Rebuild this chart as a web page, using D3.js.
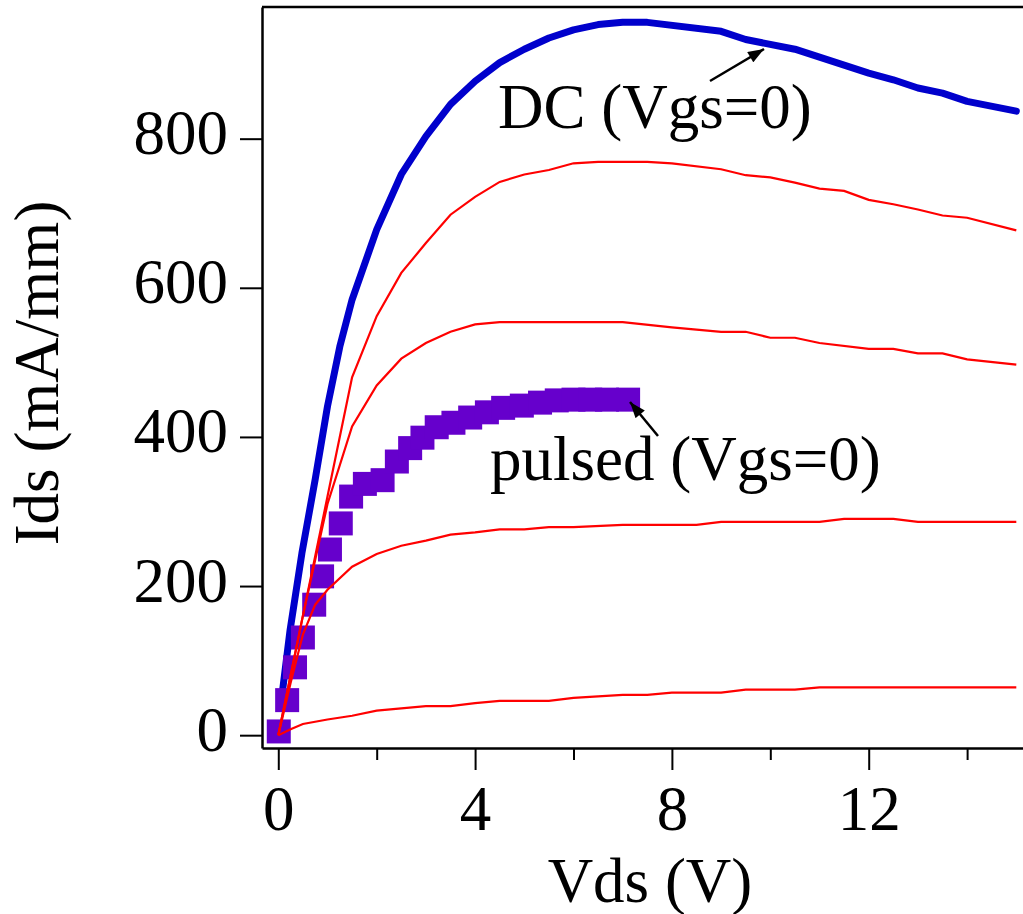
<!DOCTYPE html>
<html lang="en">
<head>
	<meta charset="utf-8">
	<title>Ids vs Vds</title>
	<script src="https://d3js.org/d3.v7.min.js" charset="utf-8"></script>
	<style>
	body { margin: 0; background: #fff; }
	text {
		font-family: "Liberation Serif", "Times New Roman", serif;
		font-size: 63px;
		fill: #000;
	}
	</style>
</head>
<body>
	<script>
	// DC curve at Vgs=0 (blue, thick)
	var dcData = [
		[0.05, 40], [0.24, 141], [0.48, 244], [0.75, 343], [1.0, 441], [1.25, 521],
		[1.5, 584], [2, 678], [2.5, 752], [3, 803], [3.5, 846], [4, 877], [4.5, 902],
		[5, 920], [5.5, 935], [6, 946], [6.5, 953], [7, 956], [7.5, 956], [9, 944],
		[9.5, 933], [10.5, 920], [12, 888], [12.5, 879], [13, 868], [13.5, 861],
		[14, 850], [15, 837]
	];

	// red family of curves (other gate voltages)
	var redCurve1 = [
		[0, 0], [0.5, 160], [1, 320], [1.5, 480], [2, 562], [2.5, 620], [3, 660],
		[3.5, 698], [4, 722], [4.5, 742], [5, 752], [5.5, 758], [6, 767], [6.5, 769],
		[7.5, 769], [8, 767], [9, 759], [9.5, 751], [10, 748], [10.5, 741], [11, 733],
		[11.5, 730], [12, 718], [12.5, 712], [13, 705], [13.5, 697], [14, 694], [15, 677]
	];
	var redCurve2 = [
		[0, 0], [0.5, 160], [1, 310], [1.5, 414], [2, 469], [2.5, 505], [3, 526],
		[3.5, 541], [4, 551], [4.5, 554], [7, 554], [8, 547], [9, 541], [9.5, 541],
		[10, 533], [10.5, 533], [11, 526], [12, 518], [12.5, 518], [13, 512],
		[13.5, 512], [14, 504], [15, 497]
	];
	var redCurve3 = [
		[0, 0], [0.25, 70], [0.5, 135], [0.75, 175], [1, 195], [1.5, 226], [2, 243],
		[2.5, 254], [3, 261], [3.5, 269], [4, 272], [4.5, 276], [5, 276], [5.5, 279],
		[6, 279], [7, 282], [8.5, 282], [9, 286], [11, 286], [11.5, 290], [12.5, 290],
		[13, 286], [15, 286]
	];
	var redCurve4 = [
		[0, 0], [0.25, 8], [0.5, 15], [1, 21], [1.5, 26], [2, 33], [2.5, 36], [3, 39],
		[3.5, 39], [4, 43], [4.5, 46], [5.5, 46], [6, 50], [6.5, 52], [7, 54],
		[7.5, 54], [8, 57], [9, 57], [9.5, 61], [10.5, 61], [11, 64], [15, 64]
	];
	var redCurves = [redCurve1, redCurve2, redCurve3, redCurve4];

	// pulsed measurement at Vgs=0 (purple squares)
	var pulsedData = [
		[0.01, 5], [0.18, 47], [0.34, 91], [0.5, 131], [0.73, 175], [0.89, 213],
		[1.05, 249], [1.27, 284], [1.48, 320], [1.76, 337], [2.12, 342], [2.41, 367],
		[2.68, 385], [2.93, 399], [3.22, 413], [3.56, 419], [3.9, 426], [4.24, 433],
		[4.57, 439], [4.95, 442], [5.32, 446], [5.66, 449], [6.0, 450], [6.34, 450],
		[6.68, 450], [7.11, 450]
	];

	var xMajorTicks = [0, 4, 8, 12];
	var xMinorTicks = [2, 6, 10, 14];
	var yTicks = [0, 200, 400, 600, 800];

	var w = 1023, h = 914;

	var svg = d3.select("body").append("svg")
		.attr("width", w)
		.attr("height", h);

	var x = d3.scaleLinear().domain([-0.331, 15.136]).range([262, 1023]);
	var y = d3.scaleLinear().domain([-17.2, 976.6]).range([748, 7]);

	var line = d3.line()
		.x(function(d) { return x(d[0]); })
		.y(function(d) { return y(d[1]); });

	// arrow head
	svg.append("defs").append("marker")
		.attr("id", "arrow")
		.attr("markerUnits", "userSpaceOnUse")
		.attr("viewBox", "0 0 16 12")
		.attr("refX", 16).attr("refY", 6)
		.attr("markerWidth", 17).attr("markerHeight", 12)
		.attr("orient", "auto")
		.append("path")
		.attr("d", "M0,0 L16,6 L0,12 Z")
		.attr("fill", "#000");

	// DC curve
	svg.append("path")
		.datum(dcData)
		.attr("d", line)
		.attr("fill", "none")
		.attr("stroke", "#0000cc")
		.attr("stroke-width", 7)
		.attr("stroke-linejoin", "round")
		.attr("stroke-linecap", "round");

	// pulsed squares
	var sq = 24;
	svg.selectAll("rect.pulsed")
		.data(pulsedData)
		.enter()
		.append("rect")
		.attr("class", "pulsed")
		.attr("x", function(d) { return x(d[0]) - sq / 2; })
		.attr("y", function(d) { return y(d[1]) - sq / 2; })
		.attr("width", sq)
		.attr("height", sq)
		.attr("fill", "#6600cc");

	// red curves
	svg.selectAll("path.red")
		.data(redCurves)
		.enter()
		.append("path")
		.attr("class", "red")
		.attr("d", line)
		.attr("fill", "none")
		.attr("stroke", "#ff0000")
		.attr("stroke-width", 2.2);

	// x axis (major + minor ticks)
	var xAxis = svg.append("g")
		.attr("transform", "translate(0,748)")
		.call(d3.axisBottom(x).tickValues(xMajorTicks).tickSize(22).tickSizeOuter(0).tickFormat(d3.format("d")));
	xAxis.select(".domain").attr("stroke-width", 2.5);
	xAxis.selectAll(".tick line").attr("stroke-width", 2);
	xAxis.selectAll(".tick text")
		.attr("y", 82).attr("dy", 0)
		.style("font-size", "63px")
		.style("font-family", "'Liberation Serif', serif");

	svg.append("g")
		.attr("transform", "translate(0,748)")
		.call(d3.axisBottom(x).tickValues(xMinorTicks).tickSize(12).tickSizeOuter(0).tickFormat(""))
		.call(function(g) { g.select(".domain").remove(); })
		.selectAll(".tick line").attr("stroke-width", 2);

	// y axis
	var yAxis = svg.append("g")
		.attr("transform", "translate(262,0)")
		.call(d3.axisLeft(y).tickValues(yTicks).tickSize(22).tickSizeOuter(0).tickFormat(d3.format("d")));
	yAxis.select(".domain").attr("stroke-width", 2.5);
	yAxis.selectAll(".tick line").attr("stroke-width", 2);
	yAxis.selectAll(".tick text")
		.attr("x", -34).attr("dy", 15)
		.style("font-size", "63px")
		.style("font-family", "'Liberation Serif', serif");

	// top frame line
	svg.append("line")
		.attr("x1", 262).attr("y1", 7)
		.attr("x2", 1023).attr("y2", 7)
		.attr("stroke", "#000")
		.attr("stroke-width", 2.5);

	// axis titles
	svg.append("text")
		.attr("x", 650).attr("y", 902)
		.attr("text-anchor", "middle")
		.text("Vds (V)");

	svg.append("text")
		.attr("text-anchor", "middle")
		.attr("transform", "translate(58,373) rotate(-90)")
		.text("Ids (mA/mm)");

	// annotations
	svg.append("text")
		.attr("x", 498).attr("y", 128)
		.text("DC (Vgs=0)");
	svg.append("line")
		.attr("x1", 710).attr("y1", 81)
		.attr("x2", 764).attr("y2", 49)
		.attr("stroke", "#000").attr("stroke-width", 2.5)
		.attr("marker-end", "url(#arrow)");

	svg.append("text")
		.attr("x", 490).attr("y", 480)
		.text("pulsed (Vgs=0)");
	svg.append("line")
		.attr("x1", 658).attr("y1", 436)
		.attr("x2", 630).attr("y2", 402)
		.attr("stroke", "#000").attr("stroke-width", 2.5)
		.attr("marker-end", "url(#arrow)");
	</script>
</body>
</html>
